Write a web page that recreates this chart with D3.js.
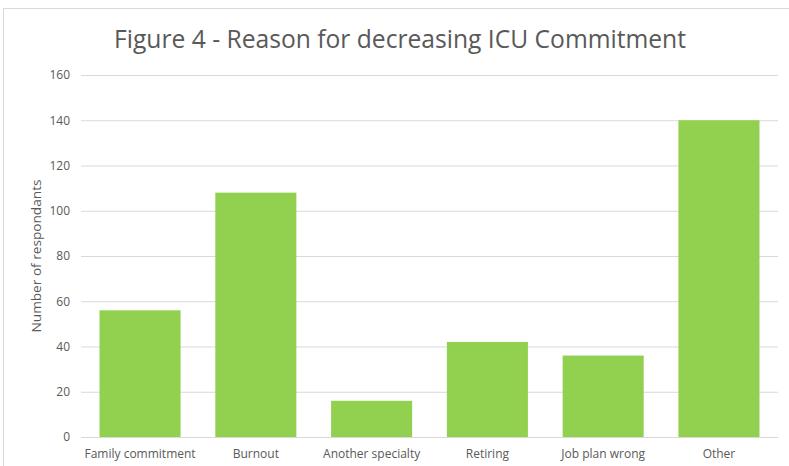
<!DOCTYPE html>
<html><head><meta charset="utf-8">
<script src="https://cdn.jsdelivr.net/npm/d3@7"></script>
<style>body{margin:0;background:#fff;} svg{display:block;}</style>
</head><body>
<svg id="c" width="789" height="466"></svg>
<script>
const categories = ["Family commitment","Burnout","Another specialty","Retiring","Job plan wrong","Other"];
const values = [56,108,16,42,36,140];
const yTicks = [0,20,40,60,80,100,120,140,160];
const title = "Figure 4 - Reason for decreasing ICU Commitment";
const yLabel = "Number  of respondants";

const svg = d3.select("#c");
const font = "'Open Sans', sans-serif";
const grey = "#595959";
svg.append("rect").attr("x",3.5).attr("y",8.5).attr("width",800).attr("height",480)
  .attr("fill","#fff").attr("stroke","#d9d9d9").attr("stroke-width",1);

const m = {left:81,right:778,top:75,bottom:437};
const x = d3.scaleBand().domain(categories).range([m.left,m.right]).paddingInner(0.3).paddingOuter(0.16);
const y = d3.scaleLinear().domain([0,160]).range([m.bottom,m.top]);

const yAxis = svg.append("g").attr("transform",`translate(${m.left},0)`)
  .call(d3.axisLeft(y).tickValues(yTicks).tickSize(-(m.right-m.left)).tickPadding(11));
yAxis.select(".domain").remove();
yAxis.selectAll("line").attr("stroke","#d9d9d9").attr("stroke-width",1);
yAxis.selectAll("text").attr("fill",grey).style("font-family",font).style("font-size","12px");

svg.append("g").selectAll("rect").data(values).join("rect")
  .attr("x",(d,i)=>x(categories[i])).attr("width",x.bandwidth())
  .attr("y",d=>y(d)).attr("height",d=>y(0)-y(d)).attr("fill","#92d050");

const xAxis = svg.append("g").attr("transform",`translate(0,${m.bottom})`)
  .call(d3.axisBottom(x).tickSize(0).tickPadding(12));
xAxis.select(".domain").attr("stroke","#d9d9d9");
xAxis.selectAll("text").attr("fill",grey).style("font-family",font).style("font-size","12px");

svg.append("text").attr("x",400).attr("y",48).attr("text-anchor","middle")
  .attr("fill",grey).style("font-family",font).style("font-size","25px")
  .attr("textLength",572).attr("lengthAdjust","spacingAndGlyphs").text(title);

svg.append("text").attr("transform","translate(41,256) rotate(-90)").attr("text-anchor","middle")
  .attr("fill",grey).style("font-family",font).style("font-size","13px")
  .attr("textLength",153).attr("lengthAdjust","spacingAndGlyphs").text(yLabel);
</script>
</body></html>
